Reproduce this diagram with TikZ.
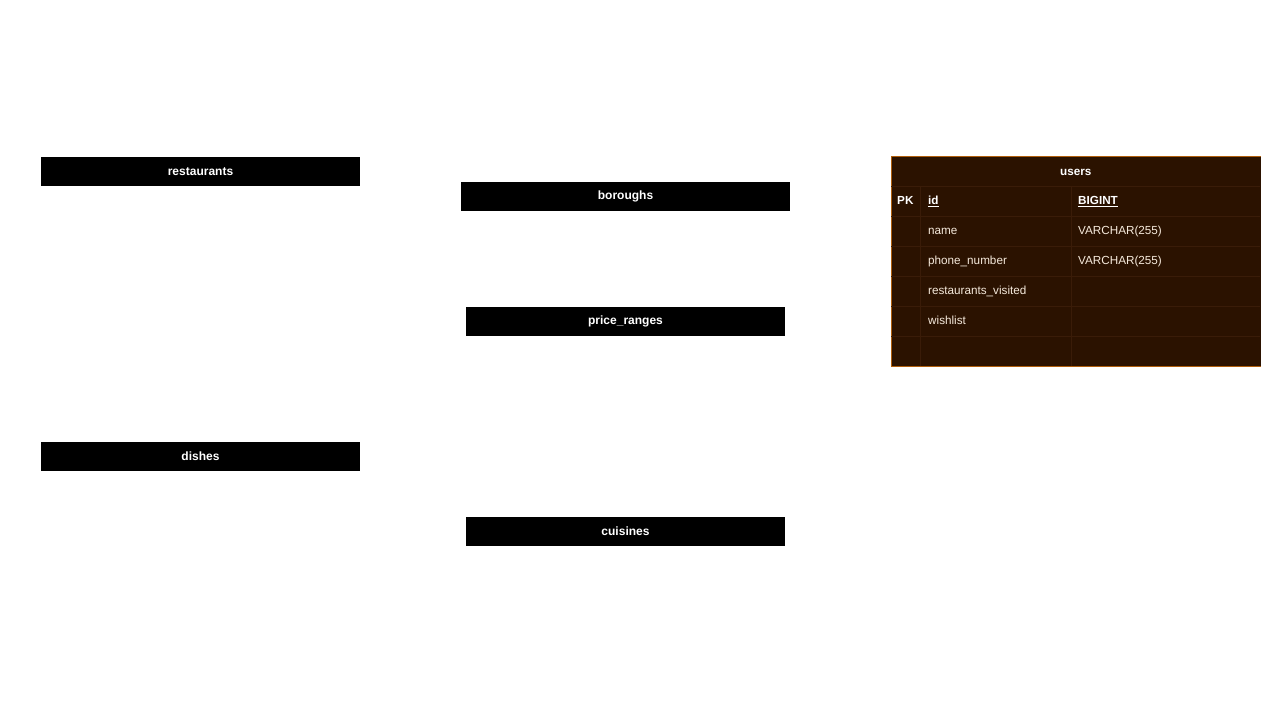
\documentclass[tikz,border=0pt]{standalone}
\usepackage{xcolor}
\usepackage{fontspec}
\setmainfont{Liberation Sans}
\usepackage{tikz}

\definecolor{tabbrown}{HTML}{2B1200}
\definecolor{taborange}{HTML}{B05E0C}
\definecolor{tabline}{HTML}{3A1C08}
\definecolor{tabtext}{HTML}{F6EADC}

\tikzset{
  tablehead/.style={draw=none, fill=black, text=white, inner sep=0pt,
    minimum height=29pt, font=\fontsize{12}{14}\selectfont\bfseries},
  cell/.style={anchor=base west, inner sep=0pt, text=tabtext,
    font=\fontsize{11.7}{14}\selectfont},
  keycell/.style={cell, text=white, font=\fontsize{11.7}{14}\selectfont\bfseries}
}

\begin{document}
\begin{tikzpicture}[x=1pt, y=-1pt]
        \useasboundingbox (0,0) rectangle (1261,708);

        % Table headers without columns
        \node[tablehead, minimum width=319pt] (restaurants) at (200.5,171.5) {restaurants};
        \node[tablehead, minimum width=329pt] (boroughs) at (625.5,196.5) {boroughs};
        \node[tablehead, minimum width=319pt] (priceranges) at (625.5,321.5) {price\_ranges};
        \node[tablehead, minimum width=319pt] (dishes) at (200.5,456.5) {dishes};
        \node[tablehead, minimum width=319pt] (cuisines) at (625.5,531.5) {cuisines};

        % Users table
        \node[draw=taborange, fill=tabbrown, inner sep=0pt, minimum width=370pt,
              minimum height=210pt, anchor=north west] (users) at (890.5,156.5) {};
        \node[keycell, anchor=base] (usershead) at (users.north |- 0,175.5) {users};
        \draw[tabline] (891,186) -- (1260,186);
        \foreach \y in {216,246,276,306,336}
            \draw[tabline] (891,\y) -- (1260,\y);
        \draw[tabline] (920,186) -- (920,366);
        \draw[tabline] (1071,186) -- (1071,366);

        % Rows
        \node[keycell] (pk) at (897,205) {PK};
        \node[keycell] (idcol) at (928,205) {\underline{id}};
        \node[keycell] (idtype) at (1078,205) {\underline{BIGINT}};
        \node[cell] (namecol) at (928,235) {name};
        \node[cell] (nametype) at (1078,235) {VARCHAR(255)};
        \node[cell] (phonecol) at (928,265) {phone\_number};
        \node[cell] (phonetype) at (1078,265) {VARCHAR(255)};
        \node[cell] (visitedcol) at (928,295) {restaurants\_visited};
        \node[cell] (wishcol) at (928,325) {wishlist};
    \end{tikzpicture}
\end{document}
